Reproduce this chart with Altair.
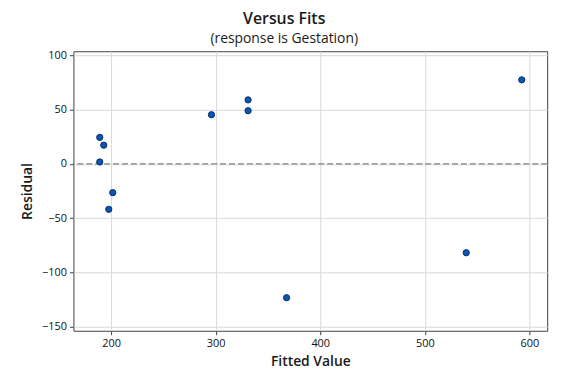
import altair as alt
import pandas as pd

fitted = [189.2, 193.0, 189.2, 201.6, 197.8, 296.0, 331.0, 331.0, 367.8, 539.6, 592.7]
residual = [24.5, 17.3, 1.8, -26.5, -41.9, 45.4, 59.1, 49.1, -123.5, -82.0, 77.6]
x_ticks = [200, 300, 400, 500, 600]
y_ticks = [-150, -100, -50, 0, 50, 100]
ref_value = [0]

df = pd.DataFrame({"Fitted Value": fitted, "Residual": residual})
ref = pd.DataFrame({"y": ref_value})

FONT = "Open Sans"

xscale = alt.Scale(domain=[164, 617], nice=False, zero=False)
yscale = alt.Scale(domain=[-154, 104], nice=False, zero=False)

points = alt.Chart(df).mark_point(
    filled=True, size=40, fill="#0A57B2", stroke="#0B2F6E", strokeWidth=1, opacity=1
).encode(
    x=alt.X("Fitted Value:Q", scale=xscale,
            axis=alt.Axis(values=x_ticks, title="Fitted Value")),
    y=alt.Y("Residual:Q", scale=yscale,
            axis=alt.Axis(values=y_ticks, title="Residual")),
)

rule = alt.Chart(ref).mark_rule(
    color="#5E5E5E", strokeDash=[6, 3], strokeWidth=1
).encode(y=alt.Y("y:Q", scale=yscale))

chart = alt.layer(rule, points).properties(
    width=478,
    height=282,
    padding={"left": 12, "top": 1, "right": 20, "bottom": 5},
    title=alt.TitleParams(
        text="Versus Fits",
        subtitle="(response is Gestation)",
        anchor="middle",
        frame="bounds",
        font=FONT,
        fontSize=16,
        fontWeight=600,
        color="#1A1A1A",
        subtitleFont=FONT,
        subtitleFontSize=14,
        subtitleColor="#1A1A1A",
        subtitlePadding=5,
        offset=4,
    ),
).configure_view(
    stroke="#404040", strokeWidth=1
).configure_axis(
    grid=True,
    gridColor="#D9D9D9",
    gridWidth=1,
    domain=False,
    tickColor="#404040",
    tickSize=4,
    labelFont=FONT,
    labelFontSize=11,
    labelColor="#111111",
    labelPadding=3,
    titleFont=FONT,
    titleFontSize=14,
    titleFontWeight=600,
    titleColor="#1A1A1A",
).configure_axisY(
    titlePadding=7,
).configure_axisX(
    titlePadding=6,
)

chart.save("out.html", embed_options={"renderer": "svg", "actions": False})
